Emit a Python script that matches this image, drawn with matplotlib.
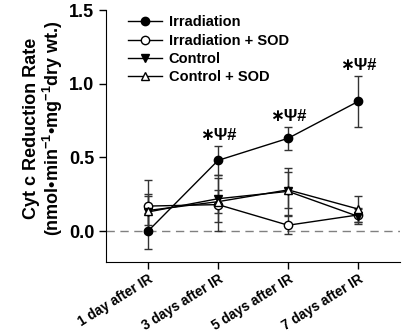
import matplotlib
matplotlib.use("Agg")
import matplotlib.pyplot as plt
import numpy as np

plt.rcParams['font.family'] = ['Liberation Sans', 'DejaVu Sans']
plt.rcParams['font.weight'] = 'bold'
plt.rcParams['mathtext.fontset'] = 'custom'
plt.rcParams['mathtext.rm'] = 'Liberation Sans:bold'
plt.rcParams['mathtext.it'] = 'Liberation Sans:italic:bold'
plt.rcParams['mathtext.bf'] = 'Liberation Sans:bold'

# data
labels = ['1 day after IR', '3 days after IR', '5 days after IR', '7 days after IR']
irr = [0.00, 0.48, 0.63, 0.88]
irr_err = [0.12, 0.10, 0.08, 0.17]
irr_sod = [0.17, 0.18, 0.04, 0.11]
irr_sod_err = [0.18, 0.18, 0.06, 0.05]
ctrl = [0.13, 0.22, 0.27, 0.10]
ctrl_err = [0.12, 0.16, 0.16, 0.05]
ctrl_sod = [0.14, 0.20, 0.28, 0.15]
ctrl_sod_err = [0.10, 0.08, 0.12, 0.09]
sig_text = ['', '\u2217\u03a8#', '\u2217\u03a8#', '\u2217\u03a8#']

x = np.arange(len(labels))

fig = plt.figure(figsize=(4.03, 3.36), dpi=100)
ax = fig.add_axes([0.263, 0.22, 0.730, 0.75])

ax.axhline(0, color='gray', ls=(0, (6, 4)), lw=1)

kw = dict(color='black', lw=1, capsize=3, elinewidth=1, capthick=1, ms=6, ecolor='#333333')
h1 = ax.errorbar(x, irr, yerr=irr_err, fmt='-o', mfc='black', mec='black', label='Irradiation', **kw)
h2 = ax.errorbar(x, irr_sod, yerr=irr_sod_err, fmt='-o', mfc='white', mec='black', label='Irradiation + SOD', **kw)
h3 = ax.errorbar(x, ctrl, yerr=ctrl_err, fmt='-v', mfc='black', mec='black', label='Control', **kw)
h4 = ax.errorbar(x, ctrl_sod, yerr=ctrl_sod_err, fmt='-^', mfc='white', mec='black', label='Control + SOD', **kw)

for xi, yi, ei, t in zip(x, irr, irr_err, sig_text):
    if t:
        ax.text(xi, yi + ei + 0.02, t, ha='center', va='bottom', fontsize=12, fontweight='bold')

ax.set_xlim(-0.6, 3.6)
ax.set_ylim(-0.21, 1.5)
ax.set_yticks([0.0, 0.5, 1.0, 1.5])
ax.set_yticklabels(['0.0', '0.5', '1.0', '1.5'], fontsize=13, fontweight='bold')
ax.set_xticks(x)
ax.set_xticklabels(labels, rotation=32, ha='right', va='top', rotation_mode='anchor',
                   fontsize=9.8, fontweight='bold')
ax.spines['top'].set_visible(False)
ax.spines['right'].set_visible(False)
ax.tick_params(direction='out', length=5, width=1)
ax.tick_params(axis='x', pad=2)

ax.set_ylabel('Cyt c Reduction Rate\n(nmol\u2022min$^{-1}$\u2022mg$^{-1}$dry wt.)',
              fontsize=13, fontweight='bold', linespacing=1.05)
ax.yaxis.set_label_coords(-0.14, 0.53)

ax.legend(handles=[h[0] for h in (h1, h2, h3, h4)], labels=[h.get_label() for h in (h1, h2, h3, h4)],
          loc='upper left', bbox_to_anchor=(0.04, 1.02), frameon=False, fontsize=10.5,
          handlelength=2.3, labelspacing=0.3, borderpad=0.2, handletextpad=0.5)

fig.savefig('out.png', dpi=100)
